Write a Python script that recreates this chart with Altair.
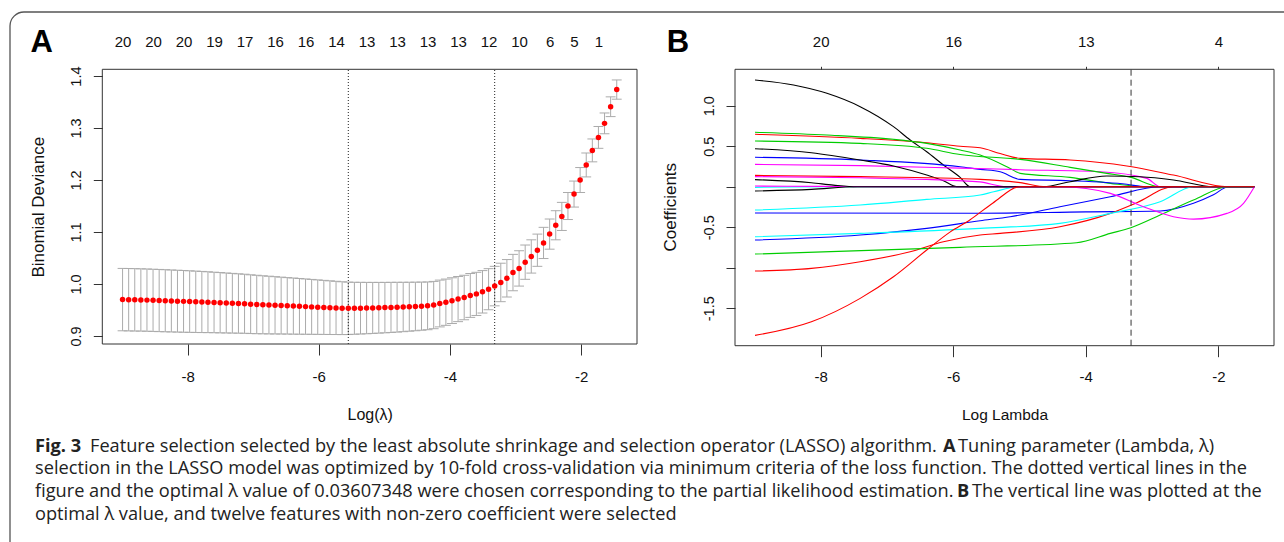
import altair as alt
import pandas as pd

# ---------------- Panel A: 10-fold CV binomial deviance ----------------
log_lambda = [
    -8.991, -8.898, -8.805, -8.712, -8.619, -8.526, -8.433, -8.340, -8.247, -8.154,
    -8.061, -7.968, -7.875, -7.782, -7.689, -7.596, -7.503, -7.410, -7.317, -7.224,
    -7.131, -7.038, -6.945, -6.852, -6.759, -6.666, -6.573, -6.480, -6.387, -6.294,
    -6.201, -6.108, -6.015, -5.922, -5.829, -5.736, -5.643, -5.549, -5.456, -5.363,
    -5.270, -5.177, -5.084, -4.991, -4.898, -4.805, -4.712, -4.619, -4.526, -4.433,
    -4.340, -4.247, -4.154, -4.061, -3.968, -3.875, -3.782, -3.689, -3.596, -3.503,
    -3.410, -3.317, -3.224, -3.131, -3.038, -2.945, -2.852, -2.759, -2.666, -2.572,
    -2.479, -2.386, -2.293, -2.200, -2.107, -2.014, -1.921, -1.828, -1.735, -1.642,
    -1.549, -1.456]
cv_mean = [
    0.9700, 0.9698, 0.9695, 0.9693, 0.9690, 0.9686, 0.9682, 0.9678, 0.9674, 0.9670,
    0.9666, 0.9662, 0.9658, 0.9654, 0.9650, 0.9645, 0.9640, 0.9635, 0.9630, 0.9625,
    0.9620, 0.9612, 0.9606, 0.9600, 0.9595, 0.9590, 0.9585, 0.9580, 0.9575, 0.9570,
    0.9565, 0.9560, 0.9555, 0.9550, 0.9545, 0.9540, 0.9535, 0.9532, 0.9533, 0.9535,
    0.9537, 0.9540, 0.9543, 0.9546, 0.9550, 0.9554, 0.9558, 0.9563, 0.9568, 0.9574,
    0.9580, 0.9595, 0.9625, 0.9650, 0.9680, 0.9710, 0.9740, 0.9780, 0.9810, 0.9850,
    0.9900, 0.9960, 1.0030, 1.0110, 1.0220, 1.0300, 1.0420, 1.0530, 1.0650, 1.0790,
    1.0960, 1.1130, 1.1300, 1.1500, 1.1730, 1.2000, 1.2290, 1.2570, 1.2820, 1.3090,
    1.3410, 1.3740]
cv_se = [
    0.0600, 0.0600, 0.0600, 0.0599, 0.0599, 0.0598, 0.0598, 0.0597, 0.0596, 0.0595,
    0.0594, 0.0592, 0.0590, 0.0588, 0.0585, 0.0582, 0.0580, 0.0577, 0.0574, 0.0571,
    0.0568, 0.0565, 0.0562, 0.0558, 0.0555, 0.0551, 0.0547, 0.0543, 0.0540, 0.0536,
    0.0532, 0.0528, 0.0524, 0.0520, 0.0516, 0.0512, 0.0508, 0.0504, 0.0500, 0.0497,
    0.0494, 0.0491, 0.0488, 0.0485, 0.0482, 0.0479, 0.0475, 0.0471, 0.0467, 0.0463,
    0.0459, 0.0455, 0.0450, 0.0445, 0.0440, 0.0434, 0.0428, 0.0422, 0.0415, 0.0408,
    0.0395, 0.0380, 0.0370, 0.0360, 0.0350, 0.0340, 0.0330, 0.0320, 0.0310, 0.0300,
    0.0290, 0.0280, 0.0270, 0.0260, 0.0250, 0.0240, 0.0230, 0.0220, 0.0210, 0.0200,
    0.0190, 0.0185]
cv_ref_lines = [-5.549, -3.317]          # lambda.min, lambda.1se (log scale)
top_pos_a = [-8.991, -8.526, -8.061, -7.596, -7.131, -6.666, -6.201, -5.736, -5.270,
             -4.805, -4.340, -3.875, -3.410, -2.945, -2.479, -2.107, -1.735]
top_lab_a = ["20", "20", "20", "19", "17", "16", "16", "14", "13", "13", "13", "13",
             "12", "10", "6", "5", "1"]
a_x_ticks = [-8, -6, -4, -2]
a_y_ticks = [0.9, 1.0, 1.1, 1.2, 1.3, 1.4]

# ---------------- Panel B: coefficient paths (log lambda, coefficient) ----------------
v01 = [(-8.991, 1.317), (-8.41, 1.256), (-7.906, 1.153), (-7.404, 0.988), (-6.902, 0.741),
       (-6.65, 0.577), (-6.40, 0.432), (-6.148, 0.268), (-5.896, 0.116), (-5.745, 0.0), (-1.456, 0.0)]
v02 = [(-8.991, 0.647), (-7.404, 0.597), (-6.40, 0.543), (-5.896, 0.50), (-5.594, 0.48),
       (-5.292, 0.41), (-4.99, 0.35), (-4.236, 0.33), (-3.381, 0.256), (-2.677, 0.144),
       (-1.85, 0.0), (-1.456, 0.0)]
v03 = [(-8.991, 0.672), (-7.906, 0.638), (-6.902, 0.585), (-6.40, 0.535), (-5.896, 0.453),
       (-5.594, 0.391), (-5.141, 0.226), (-4.99, 0.165), (-4.236, 0.115), (-3.63, 0.041),
       (-3.1, 0.0), (-1.456, 0.0)]
v04 = [(-8.991, 0.363), (-7.404, 0.33), (-5.896, 0.247), (-5.594, 0.214), (-5.292, 0.185),
       (-4.99, 0.09), (-4.236, 0.074), (-3.381, 0.03), (-3.1, 0.0), (-1.456, 0.0)]
v05 = [(-8.991, -0.008), (-8.4, -0.004), (-7.8, 0.0), (-1.456, 0.0)]
v06 = [(-8.991, 0.276), (-7.404, 0.26), (-5.896, 0.23), (-4.99, 0.21), (-3.78, 0.185),
       (-3.079, 0.103), (-2.878, 0.0), (-1.456, 0.0)]
v07 = [(-8.991, 0.469), (-8.14, 0.42), (-7.404, 0.33), (-6.902, 0.256), (-6.40, 0.144),
       (-6.148, 0.074), (-5.946, 0.0), (-1.456, 0.0)]
v08 = [(-8.991, 0.140), (-7.404, 0.125), (-5.594, 0.091), (-4.99, 0.05), (-4.6, 0.0), (-1.456, 0.0)]
v09 = [(-8.991, 0.564), (-7.404, 0.535), (-6.40, 0.474), (-5.896, 0.397), (-4.99, 0.337),
       (-4.236, 0.239), (-3.683, 0.165), (-3.32, 0.115), (-2.878, 0.0), (-1.456, 0.0)]
v10 = [(-8.991, -0.325), (-5.6, -0.327), (-4.0, -0.31), (-2.878, -0.30), (-2.375, -0.205),
       (-2.074, -0.10), (-1.85, 0.0), (-1.456, 0.0)]
v11 = [(-8.991, -0.288), (-7.404, -0.226), (-6.40, -0.156), (-5.594, -0.103), (-5.39, -0.062),
       (-4.99, 0.0), (-1.456, 0.0)]
v12 = [(-8.991, 0.125), (-7.404, 0.11), (-6.40, 0.09), (-5.6, 0.06), (-5.2, 0.0), (-1.456, 0.0)]
v13 = [(-8.991, -0.053), (-8.14, -0.033), (-7.45, 0.0), (-4.638, 0.0), (-4.236, 0.062),
       (-3.683, 0.132), (-3.18, 0.123), (-2.677, 0.083), (-2.074, 0.0), (-1.456, 0.0)]
v14 = [(-8.991, -1.041), (-8.14, -1.008), (-7.404, -0.926), (-6.65, -0.802), (-6.148, -0.679),
       (-5.594, -0.596), (-5.292, -0.576), (-4.39, -0.494), (-3.63, -0.329), (-3.23, -0.197),
       (-2.677, 0.0), (-1.456, 0.0)]
v15 = [(-8.991, -0.831), (-5.896, -0.749), (-4.14, -0.691), (-3.63, -0.576), (-3.32, -0.506),
       (-2.878, -0.35), (-2.375, -0.165), (-1.85, 0.0), (-1.456, 0.0)]
v16 = [(-8.991, -0.658), (-7.404, -0.596), (-6.40, -0.514), (-5.594, -0.42), (-5.141, -0.37),
       (-4.39, -0.247), (-3.63, -0.123), (-2.878, 0.0), (-1.456, 0.0)]
v17 = [(-8.991, -0.617), (-7.404, -0.576), (-5.594, -0.514), (-4.39, -0.452), (-3.63, -0.329),
       (-2.878, -0.185), (-2.375, 0.0), (-1.456, 0.0)]
v18 = [(-8.991, 0.008), (-8.0, 0.004), (-7.0, 0.0), (-4.36, 0.0), (-3.63, -0.082),
       (-3.13, -0.247), (-2.677, -0.37), (-2.375, -0.40), (-1.87, -0.329), (-1.62, -0.205),
       (-1.456, 0.0)]
v19 = [(-8.991, 0.087), (-8.14, 0.049), (-7.81, 0.02), (-7.45, 0.0), (-1.456, 0.0)]
v20 = [(-8.991, -1.835), (-8.14, -1.667), (-7.404, -1.378), (-6.902, -1.111), (-6.40, -0.781),
       (-6.05, -0.56), (-5.75, -0.41), (-5.4, -0.2), (-4.99, 0.0), (-1.456, 0.0)]
coef_paths = [v01, v02, v03, v04, v05, v06, v07, v08, v09, v10,
              v11, v12, v13, v14, v15, v16, v17, v18, v19, v20]
path_palette = ["#000000", "#FF0000", "#00CD00", "#0000FF", "#00FFFF", "#FF00FF"]
b_opt_line = [-3.317]
b_x_ticks = [-8, -6, -4, -2]
b_top_lab = ["20", "16", "13", "4"]
b_y_ticks = [-1.5, -1.0, -0.5, 0.0, 0.5, 1.0]

# ---------------- layout constants ----------------
W, H = 1284, 542
FONT = "Liberation Sans"
CAPFONT = "Open Sans"
AX_L, AX_R, AY_T, AY_B = 102.3, 637.0, 69.3, 344.0
BX_L, BX_R, BY_T, BY_B = 735.0, 1274.0, 69.3, 345.7
xA = alt.Scale(domain=[-9.30, -1.147], range=[AX_L, AX_R], nice=False, zero=False)
yA = alt.Scale(domain=[0.8846, 1.413], range=[AY_B, AY_T], nice=False, zero=False)
xB = alt.Scale(domain=[-9.293, -1.16], range=[BX_L, BX_R], nice=False, zero=False)
yB = alt.Scale(domain=[-1.962, 1.449], range=[BY_B, BY_T], nice=False, zero=False)

common_axis = dict(domain=False, grid=False, labelFont=FONT, labelColor="#111111",
                   tickColor="#333333", tickWidth=1, titleFont=FONT, titleColor="#111111",
                   titleFontWeight="normal", labelOverlap=False, labelFlush=False)
dash_fix = "replace(format(datum.value, '.1f'), '\u2212', '-')"

layers = []

# figure frame
one = pd.DataFrame({"k": [0]})
layers.append(alt.Chart(one).mark_rect(fillOpacity=0, stroke="#555555", strokeWidth=1.3,
                                       cornerRadius=14).encode(
    x=alt.value(10), x2=alt.value(1310), y=alt.value(12), y2=alt.value(560)))

# ---- Panel A ----
dfA = pd.DataFrame({"L": log_lambda, "m": cv_mean, "se": cv_se})
baseA = alt.Chart(dfA).transform_calculate(
    lo="datum.m - datum.se", hi="datum.m + datum.se",
    xl="datum.L - 0.0754", xr="datum.L + 0.0754")
grey = "#ABABAB"
layers.append(baseA.mark_rule(color=grey, strokeWidth=1).encode(
    x=alt.X("L:Q", scale=xA, axis=alt.Axis(orient="top", offset=-AY_T, values=top_pos_a,
            labelExpr="%s[indexof(%s, datum.value)]" % (str(top_lab_a), str(top_pos_a)),
            ticks=False, tickSize=0, labelPadding=23.3, labelBaseline="alphabetic",
            labelFontSize=15, title=None, **common_axis)),
    y=alt.Y("lo:Q", scale=yA, axis=None), y2="hi:Q"))
layers.append(baseA.mark_rule(color=grey, strokeWidth=1).encode(
    x=alt.X("xl:Q", scale=xA, axis=None), x2="xr:Q", y=alt.Y("hi:Q", scale=yA, axis=None)))
layers.append(baseA.mark_rule(color=grey, strokeWidth=1).encode(
    x=alt.X("xl:Q", scale=xA, axis=None), x2="xr:Q", y=alt.Y("lo:Q", scale=yA, axis=None)))

refA = pd.DataFrame({"L": cv_ref_lines, "y0": [yA.domain[0]] * 2, "y1": [yA.domain[1]] * 2})
layers.append(alt.Chart(refA).mark_rule(color="#222222", strokeWidth=1, strokeDash=[1, 2]).encode(
    x=alt.X("L:Q", scale=xA, axis=None), y=alt.Y("y0:Q", scale=yA, axis=None), y2="y1:Q"))

layers.append(alt.Chart(dfA).mark_circle(color="#FF0000", opacity=1, size=30).encode(
    x=alt.X("L:Q", scale=xA, axis=alt.Axis(orient="bottom", offset=AY_B - H, values=a_x_ticks,
            labelExpr="'' + datum.value", tickSize=11, labelPadding=26.7,
            labelBaseline="alphabetic", labelFontSize=15, title="Log(\u03bb)",
            titleFontSize=16, titleY=75, titleBaseline="alphabetic", **common_axis)),
    y=alt.Y("m:Q", scale=yA, axis=alt.Axis(orient="left", offset=-AX_L, values=a_y_ticks,
            labelExpr=dash_fix, tickSize=9, labelAngle=270, labelAlign="center",
            labelBaseline="bottom", labelPadding=10, labelFontSize=14.5,
            title="Binomial Deviance", titleFontSize=17, titleAngle=270,
            titleX=38 - AX_L, titleY=206.7, titleBaseline="middle", titleAlign="center",
            **common_axis))))

boxA = pd.DataFrame({"x0": [xA.domain[0]], "x1": [xA.domain[1]],
                     "y0": [yA.domain[0]], "y1": [yA.domain[1]]})
layers.append(alt.Chart(boxA).mark_rect(fillOpacity=0, stroke="#333333", strokeWidth=1).encode(
    x=alt.X("x0:Q", scale=xA, axis=None), x2="x1:Q",
    y=alt.Y("y0:Q", scale=yA, axis=None), y2="y1:Q"))

# ---- Panel B ----
ids = ["V%02d" % (i + 1) for i in range(len(coef_paths))]
rows = []
for vid, path in zip(ids, coef_paths):
    for L, c in path:
        rows.append({"var": vid, "L": L, "c": c})
dfB = pd.DataFrame(rows)
colors = [path_palette[i % 6] for i in range(len(ids))]

boxB = pd.DataFrame({"x0": [xB.domain[0]], "x1": [xB.domain[1]],
                     "y0": [yB.domain[0]], "y1": [yB.domain[1]]})
layers.append(alt.Chart(boxB).mark_rect(fillOpacity=0, stroke="#333333", strokeWidth=1).encode(
    x=alt.X("x0:Q", scale=xB, axis=alt.Axis(orient="top", offset=-BY_T, values=b_x_ticks,
            labelExpr="%s[indexof(%s, datum.value)]" % (str(b_top_lab), str(b_x_ticks)),
            tickSize=3, labelPadding=20.3, labelBaseline="alphabetic", labelFontSize=15,
            title=None, **common_axis)),
    x2="x1:Q",
    y=alt.Y("y0:Q", scale=yB, axis=None), y2="y1:Q"))

layers.append(alt.Chart(dfB).mark_line(strokeWidth=1.1, interpolate="monotone").encode(
    x=alt.X("L:Q", scale=xB, axis=alt.Axis(orient="bottom", offset=BY_B - H, values=b_x_ticks,
            labelExpr="'' + datum.value", tickSize=11, labelPadding=25,
            labelBaseline="alphabetic", labelFontSize=15, title="Log Lambda",
            titleFontSize=15.5, titleY=74, titleBaseline="alphabetic", **common_axis)),
    y=alt.Y("c:Q", scale=yB, axis=alt.Axis(orient="left", offset=-BX_L, values=b_y_ticks,
            labelExpr="datum.value == 0 || datum.value == -1 ? '' : " + dash_fix,
            tickSize=9, labelAngle=270, labelAlign="center", labelBaseline="bottom",
            labelPadding=10, labelFontSize=14.5, title="Coefficients", titleFontSize=17,
            titleAngle=270, titleX=670 - BX_L, titleY=206.7, titleBaseline="middle",
            titleAlign="center", **common_axis)),
    color=alt.Color("var:N", scale=alt.Scale(domain=ids, range=colors), legend=None),
    detail="var:N"))

refB = pd.DataFrame({"L": b_opt_line, "y0": [yB.domain[0]], "y1": [yB.domain[1]]})
layers.append(alt.Chart(refB).mark_rule(color="#333333", strokeWidth=1, strokeDash=[6, 4]).encode(
    x=alt.X("L:Q", scale=xB, axis=None), y=alt.Y("y0:Q", scale=yB, axis=None), y2="y1:Q"))

# ---- panel letters ----
for letter, px in (("A", 41.7), ("B", 678)):
    layers.append(alt.Chart(one).mark_text(text=letter, font=FONT, fontSize=31, fontWeight="bold",
                                           align="center", baseline="alphabetic", color="#000000")
                  .encode(x=alt.value(px), y=alt.value(51.7)))

# ---- caption ----
caption_segments = [
    ("Fig. 3", 35, 451.7, "bold"),
    ("Feature selection selected by the least absolute shrinkage and selection operator (LASSO) algorithm.", 90, 451.7, "normal"),
    ("A", 943, 451.7, "bold"),
    ("Tuning parameter (Lambda, \u03bb)", 958, 451.7, "normal"),
    ("selection in the LASSO model was optimized by 10-fold cross-validation via minimum criteria of the loss function. The dotted vertical lines in the", 35, 474.3, "normal"),
    ("figure and the optimal \u03bb value of 0.03607348 were chosen corresponding to the partial likelihood estimation.", 35, 496.9, "normal"),
    ("B", 957, 496.9, "bold"),
    ("The vertical line was plotted at the", 972, 496.9, "normal"),
    ("optimal \u03bb value, and twelve features with non-zero coefficient were selected", 35, 519.5, "normal"),
]
for txt, px, py, wt in caption_segments:
    layers.append(alt.Chart(one).mark_text(text=txt, font=CAPFONT, fontSize=18.2, fontWeight=wt,
                                           align="left", baseline="alphabetic", color="#222222")
                  .encode(x=alt.value(px), y=alt.value(py)))

chart = alt.layer(*layers).resolve_scale(
    x="independent", y="independent", color="independent"
).properties(
    width=W, height=H, padding=0, autosize=alt.AutoSizeParams(type="none"), background="white"
).configure_view(stroke=None)

chart.save("out.html", embed_options={"renderer": "svg", "actions": False})
